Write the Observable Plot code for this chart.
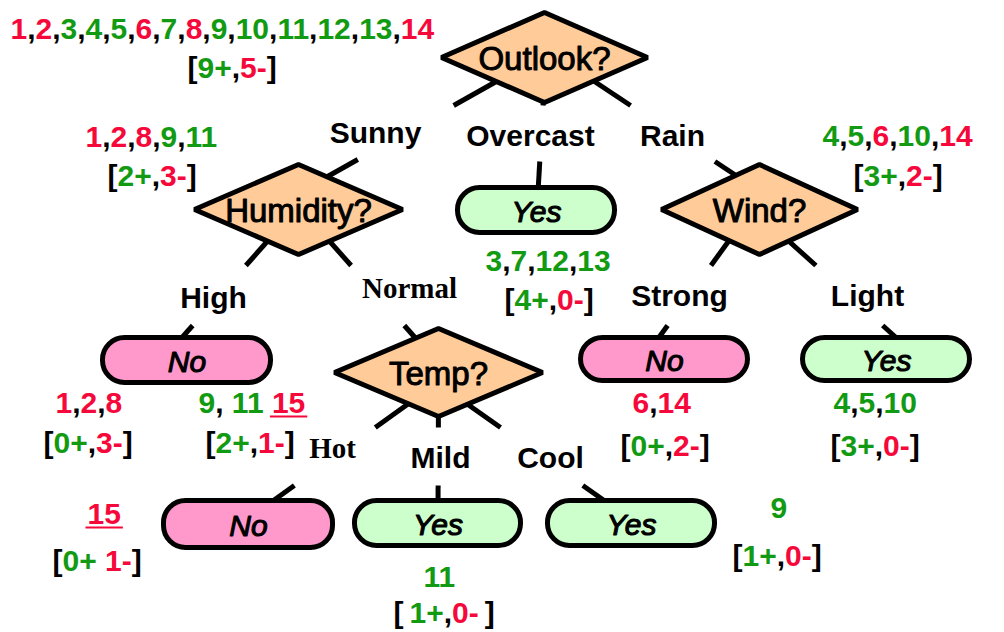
<!DOCTYPE html>
<html>
<head>
<meta charset="utf-8">
<script src="https://cdn.jsdelivr.net/npm/d3@7"></script>
<script src="https://cdn.jsdelivr.net/npm/@observablehq/plot@0.6"></script>
<style>
  body { margin: 0; background: #fff; }
  #chart svg { display: block; }
</style>
</head>
<body>
<div id="chart"></div>
<script>
// ---------------- DATA ----------------
const positives = [3, 4, 5, 7, 9, 10, 11, 12, 13];
const negatives = [1, 2, 6, 8, 14, 15];
const newExamples = [15];

const decisionIds = ["outlook", "humidity", "wind", "temp"];
const decisionLabels = ["Outlook?", "Humidity?", "Wind?", "Temp?"];

const leafIds = ["overcast", "high", "strong", "light", "hot", "mild", "cool"];
const leafLabels = ["Yes", "No", "No", "Yes", "No", "Yes", "Yes"];

const edgeFrom = ["outlook", "outlook", "outlook", "humidity", "humidity", "wind", "wind", "temp", "temp", "temp"];
const edgeTo = ["humidity", "overcast", "wind", "high", "temp", "strong", "light", "hot", "mild", "cool"];
const edgeLabels = ["Sunny", "Overcast", "Rain", "High", "Normal", "Strong", "Light", "Hot", "Mild", "Cool"];

const rootSet = [1, 2, 3, 4, 5, 6, 7, 8, 9, 10, 11, 12, 13, 14];
const sunnySet = [1, 2, 8, 9, 11];
const overcastSet = [3, 7, 12, 13];
const rainSet = [4, 5, 6, 10, 14];
const highSet = [1, 2, 8];
const normalSet = [9, 11, 15];
const strongSet = [6, 14];
const lightSet = [4, 5, 10];
const hotSet = [15];
const mildSet = [11];
const coolSet = [9];

// ---------------- LAYOUT (positions / styles) ----------------
const POS = "#129a12", NEG = "#f5083a";
const DIAMOND_FILL = "#ffcc99", NO_FILL = "#ff99cc", YES_FILL = "#ccffcc";
const SANS = "'Liberation Sans', Arial, Helvetica, sans-serif";
const SERIF = "'Liberation Serif', 'Times New Roman', serif";

const diamondGeom = { // cx, cy, half-width, half-height
  outlook: [544, 57, 103, 45],
  humidity: [298, 209, 104, 45],
  wind: [759, 209, 98, 45],
  temp: [438, 372, 104, 44]
};
const leafGeom = { // x1, y1, x2, y2
  overcast: [457.5, 187.5, 614.5, 232.5],
  high: [102.5, 337.5, 270.5, 382.5],
  strong: [580.5, 337.5, 747.5, 380.5],
  light: [802.5, 337.5, 969.5, 380.5],
  hot: [163.5, 500.5, 332.5, 547.5],
  mild: [354.5, 500.5, 520.5, 545.5],
  cool: [547.5, 500.5, 714.5, 545.5]
};
const edgeGeom = [ // A (inside parent), B (inside child), gap band
  [[510, 73], [320, 180], [105, 159]],
  [[544, 80], [537, 200], [105, 161]],
  [[580.4, 72], [759.6, 191], [105, 161]],
  [[280, 226], [170, 350], [265, 325]],
  [[316, 226], [426, 350], [265, 325]],
  [[738.7, 226], [649, 350], [265, 325]],
  [[772, 226], [910, 350], [265, 325]],
  [[419.4, 395], [259, 510], [427, 485]],
  [[438, 395], [437.5, 510], [427, 485]],
  [[454.6, 395], [617.8, 510], [427, 485]]
];
const edgeLabelPos = [ // center x, baseline y, serif?
  [375, 142, false], [530, 145, false], [672, 145, false],
  [213, 307, false], [409, 297, true], [679, 305, false], [867, 305, false],
  [332, 457, true], [440, 467, false], [550, 467, false]
];

// example lists: set, left x, baseline y, separators
const listSpecs = [
  [rootSet, 10, 38, null],
  [sunnySet, 85, 146, null],
  [overcastSet, 485, 270, null],
  [rainSet, 822, 145, null],
  [highSet, 55, 412, null],
  [normalSet, 198, 412, [", ", " "]],
  [strongSet, 632, 412, null],
  [lightSet, 833, 412, null],
  [hotSet, 87, 523, null],
  [mildSet, 423, 586, null],
  [coolSet, 770, 517, null]
];
// counts: set, left x, baseline y, open, sep, close
const countSpecs = [
  [rootSet, 187, 77, "[", ",", "]"],
  [sunnySet, 107, 185, "[", ",", "]"],
  [overcastSet, 504, 309, "[", ",", "]"],
  [rainSet, 853, 185, "[", ",", "]"],
  [highSet, 43, 452, "[", ",", "]"],
  [normalSet, 205, 452, "[", ",", "]"],
  [strongSet, 620, 455, "[", ",", "]"],
  [lightSet, 830, 455, "[", ",", "]"],
  [hotSet, 52, 570, "[", " ", "]"],
  [mildSet, 393, 622, "[\u2009", ",", "\u2009]"],
  [coolSet, 732, 565, "[", ",", "]"]
];

// ---------------- BUILD ----------------
const ctx = document.createElement("canvas").getContext("2d");
const NUM_FONT = `bold 30px 'Liberation Sans'`;
function measure(s) { ctx.font = NUM_FONT; return ctx.measureText(s).width; }
const colorOf = n => positives.includes(n) ? POS : NEG;

const tokens = [];
const underlines = [];
function place(parts, x0, y) {
  let prefix = "";
  for (const p of parts) {
    const x = x0 + measure(prefix);
    const txt = p.t.trim();
    if (txt.length) tokens.push({x, y, t: txt, c: p.c});
    if (p.u) {
      const w = measure(txt);
      underlines.push({x1: x - 2, x2: x + w + 2, y: y + 4});
    }
    prefix += p.t;
  }
}
for (const [set, x0, y, seps] of listSpecs) {
  const parts = [];
  set.forEach((n, i) => {
    if (i > 0) parts.push({t: seps ? seps[i - 1] : ",", c: "#000"});
    parts.push({t: String(n), c: colorOf(n), u: newExamples.includes(n)});
  });
  place(parts, x0, y);
}
for (const [set, x0, y, open, sep, close] of countSpecs) {
  const p = set.filter(n => positives.includes(n)).length;
  const n = set.filter(n => negatives.includes(n)).length;
  const parts = [];
  for (const ch of open) parts.push({t: ch, c: "#000"});
  parts.push({t: p + "+", c: POS});
  parts.push({t: sep, c: "#000"});
  parts.push({t: n + "-", c: NEG});
  for (const ch of close) parts.push({t: ch, c: "#000"});
  place(parts, x0, y);
}

const diamondPts = decisionIds.flatMap(id => {
  const [cx, cy, hw, hh] = diamondGeom[id];
  return [[cx - hw, cy], [cx, cy - hh], [cx + hw, cy], [cx, cy + hh]].map(([x, y]) => ({id, x, y}));
});
const decisionText = decisionIds.map((id, i) => ({x: diamondGeom[id][0], y: diamondGeom[id][1] + 12, t: decisionLabels[i]}));

const leaves = leafIds.map((id, i) => {
  const [x1, y1, x2, y2] = leafGeom[id];
  return {x1, y1, x2, y2, label: leafLabels[i], fill: leafLabels[i] === "Yes" ? YES_FILL : NO_FILL};
});
const leafText = leaves.map(d => ({x: (d.x1 + d.x2) / 2, y: (d.y1 + d.y2) / 2 + 11, t: d.label}));

function atY(A, B, y) { const t = (y - A[1]) / (B[1] - A[1]); return [A[0] + t * (B[0] - A[0]), y]; }
const stubs = edgeGeom.flatMap(([A, B, [g1, g2]], i) => {
  const P = atY(A, B, g1), Q = atY(A, B, g2);
  return [
    {edge: edgeLabels[i], x1: A[0], y1: A[1], x2: P[0], y2: P[1]},
    {edge: edgeLabels[i], x1: Q[0], y1: Q[1], x2: B[0], y2: B[1]}
  ];
});
const branchText = edgeLabels.map((t, i) => ({t, x: edgeLabelPos[i][0], y: edgeLabelPos[i][1], serif: edgeLabelPos[i][2]}));

const chart = Plot.plot({
  width: 1004,
  height: 632,
  margin: 0,
  x: {domain: [0, 1004], range: [0, 1004], axis: null},
  y: {domain: [0, 632], range: [0, 632], axis: null},
  color: {type: "identity"},
  style: {background: "white"},
  marks: [
    Plot.link(stubs, {x1: "x1", y1: "y1", x2: "x2", y2: "y2", stroke: "black", strokeWidth: 5, strokeLinecap: "butt"}),
    Plot.line(diamondPts, {x: "x", y: "y", z: "id", fill: DIAMOND_FILL, stroke: "black", strokeWidth: 5, curve: "linear-closed", strokeLinejoin: "miter"}),
    Plot.rect(leaves, {x1: "x1", x2: "x2", y1: "y1", y2: "y2", fill: "fill", stroke: "black", strokeWidth: 5, rx: 22, ry: 22}),
    Plot.text(decisionText, {x: "x", y: "y", text: "t", lineAnchor: "bottom", fontSize: 33, fontFamily: SANS, fill: "black", stroke: "black", strokeWidth: 1}),
    Plot.text(leafText, {x: "x", y: "y", text: "t", lineAnchor: "bottom", fontSize: 30, fontStyle: "italic", fontFamily: SANS, fill: "black", stroke: "black", strokeWidth: 1.1}),
    Plot.text(branchText.filter(d => !d.serif), {x: "x", y: "y", text: "t", lineAnchor: "bottom", fontSize: 30, fontWeight: "bold", fontFamily: SANS, fill: "black"}),
    Plot.text(branchText.filter(d => d.serif), {x: "x", y: "y", text: "t", lineAnchor: "bottom", fontSize: 29, fontWeight: "bold", fontFamily: SERIF, fill: "black"}),
    Plot.text(tokens, {x: "x", y: "y", text: "t", fill: "c", textAnchor: "start", lineAnchor: "bottom", fontSize: 30, fontWeight: "bold", fontFamily: SANS}),
    Plot.link(underlines, {x1: "x1", x2: "x2", y1: "y", y2: "y", stroke: NEG, strokeWidth: 2})
  ]
});
document.getElementById("chart").appendChild(chart);
</script>
</body>
</html>
